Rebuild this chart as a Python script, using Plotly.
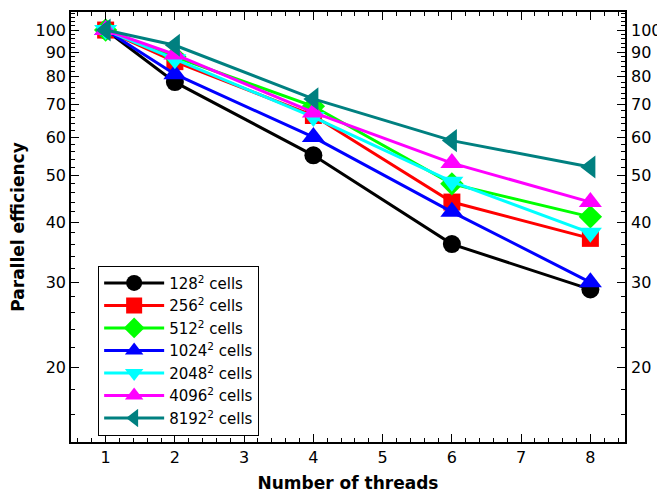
import plotly.graph_objects as go
import math

threads = [1, 2, 4, 6, 8]
labels = ["128<sup>2</sup> cells", "256<sup>2</sup> cells", "512<sup>2</sup> cells",
          "1024<sup>2</sup> cells", "2048<sup>2</sup> cells", "4096<sup>2</sup> cells",
          "8192<sup>2</sup> cells"]
eff_128 = [100, 78, 55, 36, 29]
eff_256 = [100, 86, 66.5, 44, 37]
eff_512 = [100, 88, 69.5, 48, 41]
eff_1024 = [100, 81, 60, 42, 30]
eff_2048 = [100, 87, 66, 48.5, 38]
eff_4096 = [100, 89, 67.5, 53, 44]
eff_8192 = [100, 93, 72, 59, 52]
series = [eff_128, eff_256, eff_512, eff_1024, eff_2048, eff_4096, eff_8192]
colors = ["#000000", "#ff0000", "#00ff00", "#0000ff", "#00ffff", "#ff00ff", "#008080"]
symbols = ["circle", "square", "diamond", "triangle-up", "triangle-down", "triangle-up", "triangle-left"]
sizes = [18, 17, 18, 20, 20, 20, 20]

x_ticks = [1, 2, 3, 4, 5, 6, 7, 8]
y_ticks = [20, 30, 40, 50, 60, 70, 80, 90, 100]
y_minor = list(range(14, 110, 2))
x_minor = [round(0.6 + 0.2 * i, 1) for i in range(40)]

fig = go.Figure()
for lab, ys, c, s, sz in zip(labels, series, colors, symbols, sizes):
    fig.add_trace(go.Scatter(x=threads, y=ys, name=lab, mode="lines+markers",
                             line=dict(color=c, width=3),
                             marker=dict(symbol=s, size=sz, color=c)))
# invisible trace for right axis
fig.add_trace(go.Scatter(x=threads, y=eff_128, yaxis="y2", showlegend=False,
                         mode="markers", marker=dict(opacity=0), hoverinfo="skip"))

yr = [math.log10(14), math.log10(109)]
font = dict(family="DejaVu Sans", size=16, color="black")
title_font = dict(family="DejaVu Sans", size=17, weight="bold", color="black")
fig.update_layout(
    width=657, height=485,
    margin=dict(l=63, r=40, t=4, b=51),
    plot_bgcolor="white", paper_bgcolor="white",
    font=font,
    showlegend=True,
    legend=dict(x=0.049, y=0.41, xanchor="left", yanchor="top",
                bordercolor="black", borderwidth=1, bgcolor="white",
                font=dict(family="DejaVu Sans", size=15, color="black"),
                itemwidth=60, tracegroupgap=0),
    xaxis=dict(range=[0.5, 8.5], tickmode="array", tickvals=x_ticks,
               ticktext=[str(v) for v in x_ticks], automargin=False,
               ticks="inside", ticklen=8, tickwidth=1, tickcolor="black",
               showline=True, linecolor="black", linewidth=1.5, mirror="ticks",
               showgrid=False, zeroline=False,
               minor=dict(tickmode="array", tickvals=x_minor, ticks="inside",
                          ticklen=4, tickcolor="black", tickwidth=1, showgrid=False),
               title=dict(text="Number of threads", font=title_font, standoff=11),
               tickfont=font),
    yaxis=dict(type="log", range=yr, tickmode="array", tickvals=y_ticks,
               ticktext=[str(v) for v in y_ticks], automargin=False,
               ticks="inside", ticklen=8, tickwidth=1, tickcolor="black",
               showline=True, linecolor="black", linewidth=1.5, mirror=True,
               showgrid=False, zeroline=False,
               minor=dict(tickmode="array", tickvals=y_minor, ticks="inside",
                          ticklen=4, tickcolor="black", tickwidth=1, showgrid=False),
               title=dict(text="Parallel efficiency", font=title_font, standoff=10),
               tickfont=font),
    yaxis2=dict(type="log", range=yr, overlaying="y", side="right", anchor="x",
                tickmode="array", tickvals=y_ticks, ticktext=[str(v) for v in y_ticks],
                automargin=False, ticklabelstandoff=5,
                ticks="inside", ticklen=8, tickwidth=1, tickcolor="black",
                showline=False, showgrid=False, zeroline=False,
                minor=dict(tickmode="array", tickvals=y_minor, ticks="inside",
                           ticklen=4, tickcolor="black", tickwidth=1, showgrid=False),
                tickfont=font),
)
fig.write_html("out.html")
